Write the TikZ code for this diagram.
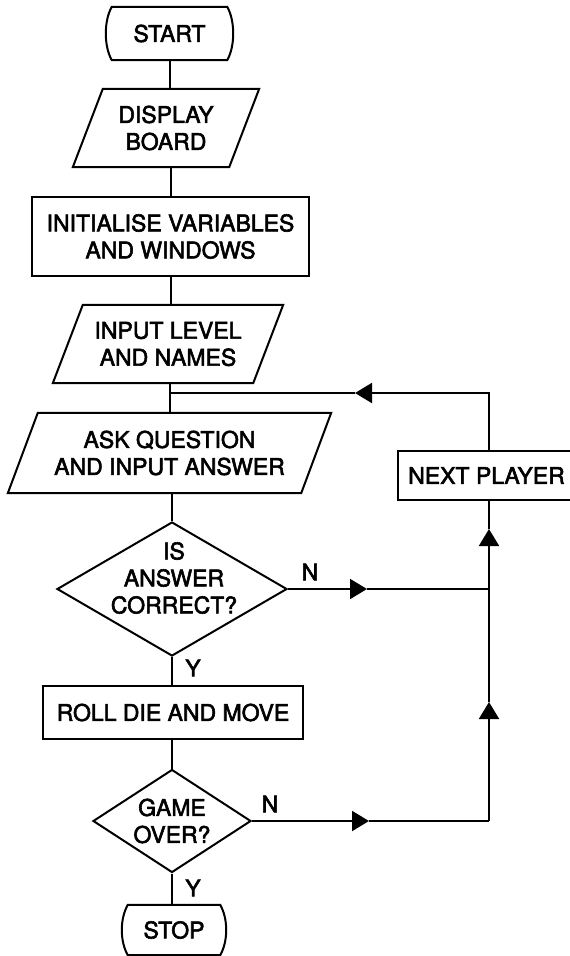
\documentclass[tikz,border=0pt]{standalone}
\usepackage{fontspec}
\setmainfont{TeX Gyre Heros}[FakeBold=2.5]
\usetikzlibrary{shapes.geometric,arrows.meta,calc}

\begin{document}
\begin{tikzpicture}[x=1pt,y=-1pt,
  outline/.style={line width=2pt, line join=miter},
  flow/.style={line width=2pt, line join=miter},
  txt/.style={font=\fontsize{23}{27}\selectfont, align=center, inner sep=0pt},
  plainbox/.style={txt, rectangle},
  procbox/.style={txt, draw, outline, rectangle},
  decision/.style={txt, draw, outline, diamond, inner sep=0pt},
  tip/.style={-{Triangle[length=17pt,width=20pt]}},
  lbl/.style={font=\fontsize{23}{27}\selectfont, inner sep=0pt}
]
\useasboundingbox (0,0) rectangle (570,956);

% main column
\node[plainbox, minimum width=115pt, minimum height=53pt] (start) at (169.5,33.5) {START};
\node[plainbox, minimum width=156pt, minimum height=78pt] (disp) at (166,128) {DISPLAY\\BOARD};
\node[procbox, minimum width=277pt, minimum height=79pt] (init) at (170.5,236.5) {INITIALISE VARIABLES\\AND WINDOWS};
\node[plainbox, minimum width=200pt, minimum height=78pt] (inp) at (168,344) {INPUT LEVEL\\AND NAMES};
\node[plainbox, minimum width=293pt, minimum height=80pt] (ask) at (169.5,453) {ASK QUESTION\\AND INPUT ANSWER};
\node[decision, minimum width=230pt, minimum height=134pt] (q) at (172,589) {};
\node[txt] (qtext) at (174,578) {IS\\ANSWER\\CORRECT?};
\node[procbox, minimum width=260pt, minimum height=53pt] (roll) at (173,712.5) {ROLL DIE AND MOVE};
\node[decision, shape aspect=1.53, minimum width=158pt, minimum height=103pt] (game) at (172,821) {GAME\\OVER?};
\node[plainbox, minimum width=92pt, minimum height=50pt] (stop) at (174,930) {STOP};

% side box
\node[procbox, minimum width=177pt, minimum height=49pt] (next) at (486.5,475.5) {NEXT PLAYER};

% terminal outlines
\foreach \nm in {start,stop}
  \draw[outline] (\nm.north west) -- (\nm.north east)
    .. controls +(8,14) and +(8,-14) .. (\nm.south east)
    -- (\nm.south west)
    .. controls +(-8,-14) and +(-8,14) .. (\nm.north west) -- cycle;

% input/output outlines
\foreach \nm in {disp,inp,ask}
  \draw[outline] ($(\nm.north west)+(15,0)$) -- ($(\nm.north east)+(15,0)$)
    -- ($(\nm.south east)+(-15,0)$) -- ($(\nm.south west)+(-15,0)$) -- cycle;

% main flow
\draw[flow] (start.south) -- (start.south |- disp.north);
\draw[flow] (init.north |- disp.south) -- (init.north);
\draw[flow] (init.south) -- (init.south |- inp.north);
\draw[flow] (inp.south -| ask.north) -- (ask.north);
\draw[flow] (ask.south -| q.north) -- (q.north);
\draw[flow] (q.south) -- (q.south |- roll.north);
\draw[flow] (roll.south -| game.north) -- (game.north);
\draw[flow] (game.south) -- (game.south |- stop.north);

% branch labels
\node[lbl] (yq) at (193,668) {Y};
\node[lbl] (nq) at (310,572) {N};
\node[lbl] (yg) at (193,888) {Y};
\node[lbl] (ng) at (270,804) {N};

% return loop
\coordinate (j1) at (169.5,393);
\coordinate (c1) at (489,393);
\coordinate (jn) at (q.east -| c1);
\coordinate (c2) at (game.east -| c1);
\coordinate (t1) at (355,393);
\coordinate (t2) at (q.east -| 367,0);
\coordinate (t3) at (game.east -| 369,0);
\coordinate (t4) at (489,702);
\coordinate (t5) at (489,529);

\draw[flow,tip] (next.north -| c1) -- (c1) -- (t1);
\draw[flow] (t1) -- (j1);
\draw[flow,tip] (q.east) -- (t2);
\draw[flow] (t2) -- (jn);
\draw[flow,tip] (game.east) -- (t3);
\draw[flow] (t3) -- (c2);
\draw[flow,tip] (c2) -- (t4);
\draw[flow,tip] (t4) -- (t5);
\draw[flow] (t5) -- (next.south -| c1);
\end{tikzpicture}
\end{document}
